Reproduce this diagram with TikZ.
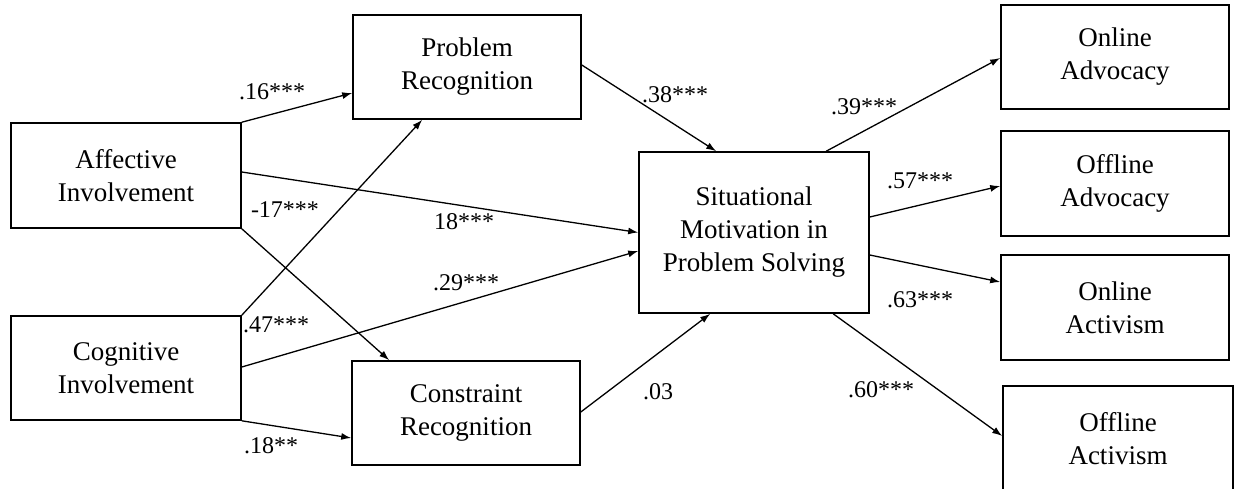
\documentclass[tikz,border=0pt]{standalone}
\usepackage{fontspec}
\setmainfont{Liberation Serif}
\usetikzlibrary{calc,arrows.meta}

\tikzset{
  varbox/.style={draw, line width=1.6pt, inner sep=0pt, align=center,
    font=\fontsize{27}{33}\selectfont},
  coef/.style={inner sep=0pt, font=\fontsize{24}{28}\selectfont},
  path/.style={line width=1.3pt, -{Latex[length=10pt,width=7pt]}}
}

\begin{document}
\begin{tikzpicture}[x=1pt,y=-1pt]
\useasboundingbox (0,0) rectangle (1235,488);

% exogenous involvement variables
\node[varbox, minimum width=230pt, minimum height=105pt] (aff) at (126,175.5) {Affective\\Involvement};
\node[varbox, minimum width=230pt, minimum height=104pt] (cog) at (126,368) {Cognitive\\Involvement};

% perception variables
\node[varbox, minimum width=228pt, minimum height=104pt] (prob) at (467,67) {Problem\\Recognition};
\node[varbox, minimum width=228pt, minimum height=104pt] (cons) at (466,413) {Constraint\\Recognition};

% motivation
\node[varbox, minimum width=230pt, minimum height=161pt] (sit) at (754,232.5) {Situational\\Motivation in\\Problem Solving};

% outcomes
\node[varbox, minimum width=228pt, minimum height=104pt] (onadv) at (1115,57) {Online\\Advocacy};
\node[varbox, minimum width=228pt, minimum height=105pt] (offadv) at (1115,183.5) {Offline\\Advocacy};
\node[varbox, minimum width=228pt, minimum height=105pt] (onact) at (1115,307.5) {Online\\Activism};
\node[varbox, minimum width=230pt, minimum height=105pt] (offact) at (1118,438.5) {Offline\\Activism};

% paths
\draw[path] (aff.north east) -- ($(prob.west)+(0,26)$);
\draw[path] ($(aff.east)+(0,-3.5)$) -- (sit.west);
\draw[path] (aff.south east) -- ($(cons.north west)+(38,0)$);
\draw[path] (cog.north east) -- ($(prob.south west)+(70,0)$);
\draw[path] ($(cog.east)+(0,-1)$) -- ($(sit.west)+(0,18.5)$);
\draw[path] (cog.south east) -- ($(cons.west)+(0,25)$);
\draw[path] ($(prob.east)+(0,-2)$) -- ($(sit.north west)+(78,0)$);
\draw[path] ($(cons.east)+(0,-1)$) -- ($(sit.south west)+(72,0)$);
\draw[path] ($(sit.north west)+(188,0)$) -- ($(onadv.west)+(0,1)$);
\draw[path] ($(sit.east)+(0,-15.5)$) -- ($(offadv.west)+(0,2.5)$);
\draw[path] ($(sit.east)+(0,22.5)$) -- ($(onact.west)+(0,-25.5)$);
\draw[path] ($(sit.south west)+(195,0)$) -- ($(offact.west)+(0,-2.5)$);

% coefficients
\node[coef] (c1) at (272,92) {.16***};
\node[coef] (c2) at (285,210) {-17***};
\node[coef] (c3) at (464,222) {18***};
\node[coef] (c4) at (466,283) {.29***};
\node[coef] (c5) at (276,325) {.47***};
\node[coef] (c6) at (271,446) {.18**};
\node[coef] (c7) at (675,95) {.38***};
\node[coef] (c8) at (658,392) {.03};
\node[coef] (c9) at (864,107) {.39***};
\node[coef] (c10) at (920,181) {.57***};
\node[coef] (c11) at (920,300) {.63***};
\node[coef] (c12) at (881,390) {.60***};
\end{tikzpicture}
\end{document}
